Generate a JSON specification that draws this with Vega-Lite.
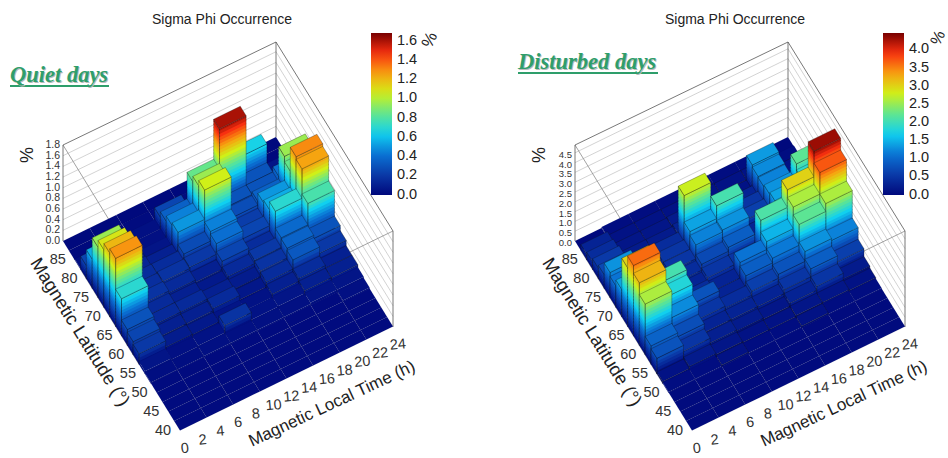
{"$schema":"https://vega.github.io/schema/vega-lite/v6.json","padding":0,"spacing":0,"bounds":"flush","background":"white","config":{"view":{"stroke":null}},
"resolve":{"scale":{"fill":"independent"},"legend":{"fill":"independent"}},
"datasets":{
"latT":[{"l":40},{"l":45},{"l":50},{"l":55},{"l":60},{"l":65},{"l":70},{"l":75},{"l":80},{"l":85}],
"mltT":[{"m":0},{"m":2},{"m":4},{"m":6},{"m":8},{"m":10},{"m":12},{"m":14},{"m":16},{"m":18},{"m":20},{"m":22},{"m":24}],
"quiet":[
{"m":21,"l":87.5,"v":0},{"m":18,"l":87.5,"v":0},{"m":15,"l":87.5,"v":0},{"m":12,"l":87.5,"v":0},{"m":9,"l":87.5,"v":0},{"m":6,"l":87.5,"v":0},{"m":3,"l":87.5,"v":0},{"m":0,"l":87.5,"v":0},
{"m":21,"l":85,"v":0},{"m":18,"l":85,"v":0.02},{"m":15,"l":85,"v":0.02},{"m":12,"l":85,"v":0.01},{"m":9,"l":85,"v":0.01},{"m":6,"l":85,"v":0.01},{"m":3,"l":85,"v":0},{"m":0,"l":85,"v":0},
{"m":21,"l":82.5,"v":0.05},{"m":18,"l":82.5,"v":0.65},{"m":15,"l":82.5,"v":0.1},{"m":12,"l":82.5,"v":0.1},{"m":9,"l":82.5,"v":0.25},{"m":6,"l":82.5,"v":0.03},{"m":3,"l":82.5,"v":0.02},{"m":0,"l":82.5,"v":0.02},
{"m":21,"l":80,"v":0.1},{"m":18,"l":80,"v":0.3},{"m":15,"l":80,"v":1.6},{"m":12,"l":80,"v":0.85},{"m":9,"l":80,"v":0.35},{"m":6,"l":80,"v":0.03},{"m":3,"l":80,"v":0.05},{"m":0,"l":80,"v":0.25},
{"m":21,"l":77.5,"v":0.4},{"m":18,"l":77.5,"v":0.3},{"m":15,"l":77.5,"v":0.3},{"m":12,"l":77.5,"v":0.95},{"m":9,"l":77.5,"v":0.45},{"m":6,"l":77.5,"v":0.05},{"m":3,"l":77.5,"v":0.1},{"m":0,"l":77.5,"v":0.55},
{"m":21,"l":75,"v":0.95},{"m":18,"l":75,"v":0.35},{"m":15,"l":75,"v":0.28},{"m":12,"l":75,"v":1.05},{"m":9,"l":75,"v":0.5},{"m":6,"l":75,"v":0.1},{"m":3,"l":75,"v":0.12},{"m":0,"l":75,"v":0.95},
{"m":21,"l":72.5,"v":0.85},{"m":18,"l":72.5,"v":0.5},{"m":15,"l":72.5,"v":0.22},{"m":12,"l":72.5,"v":0.45},{"m":9,"l":72.5,"v":0.27},{"m":6,"l":72.5,"v":0.15},{"m":3,"l":72.5,"v":0.15},{"m":0,"l":72.5,"v":1.08},
{"m":21,"l":70,"v":1.3},{"m":18,"l":70,"v":0.55},{"m":15,"l":70,"v":0.25},{"m":12,"l":70,"v":0.4},{"m":9,"l":70,"v":0.2},{"m":6,"l":70,"v":0.18},{"m":3,"l":70,"v":0.16},{"m":0,"l":70,"v":1.2},
{"m":21,"l":67.5,"v":1.25},{"m":18,"l":67.5,"v":0.7},{"m":15,"l":67.5,"v":0.15},{"m":12,"l":67.5,"v":0.25},{"m":9,"l":67.5,"v":0.1},{"m":6,"l":67.5,"v":0.14},{"m":3,"l":67.5,"v":0.18},{"m":0,"l":67.5,"v":1.28},
{"m":21,"l":65,"v":0.78},{"m":18,"l":65,"v":0.38},{"m":15,"l":65,"v":0.2},{"m":12,"l":65,"v":0.14},{"m":9,"l":65,"v":0.07},{"m":6,"l":65,"v":0.1},{"m":3,"l":65,"v":0.14},{"m":0,"l":65,"v":0.7},
{"m":21,"l":62.5,"v":0.3},{"m":18,"l":62.5,"v":0.36},{"m":15,"l":62.5,"v":0.18},{"m":12,"l":62.5,"v":0.08},{"m":9,"l":62.5,"v":0.1},{"m":6,"l":62.5,"v":0.14},{"m":3,"l":62.5,"v":0.14},{"m":0,"l":62.5,"v":0.3},
{"m":21,"l":60,"v":0.2},{"m":18,"l":60,"v":0.32},{"m":15,"l":60,"v":0.15},{"m":12,"l":60,"v":0.06},{"m":9,"l":60,"v":0.14},{"m":6,"l":60,"v":0.1},{"m":3,"l":60,"v":0.1},{"m":0,"l":60,"v":0.25},
{"m":21,"l":57.5,"v":0.1},{"m":18,"l":57.5,"v":0.15},{"m":15,"l":57.5,"v":0.1},{"m":12,"l":57.5,"v":0.04},{"m":9,"l":57.5,"v":0.05},{"m":6,"l":57.5,"v":0.07},{"m":3,"l":57.5,"v":0.08},{"m":0,"l":57.5,"v":0.2},
{"m":21,"l":55,"v":0.1},{"m":18,"l":55,"v":0.1},{"m":15,"l":55,"v":0.05},{"m":12,"l":55,"v":0.04},{"m":9,"l":55,"v":0.18},{"m":6,"l":55,"v":0.04},{"m":3,"l":55,"v":0.03},{"m":0,"l":55,"v":0.05},
{"m":21,"l":52.5,"v":0.05},{"m":18,"l":52.5,"v":0.05},{"m":15,"l":52.5,"v":0.03},{"m":12,"l":52.5,"v":0.03},{"m":9,"l":52.5,"v":0.03},{"m":6,"l":52.5,"v":0.03},{"m":3,"l":52.5,"v":0.02},{"m":0,"l":52.5,"v":0.02},
{"m":21,"l":50,"v":0.03},{"m":18,"l":50,"v":0.01},{"m":15,"l":50,"v":0.01},{"m":12,"l":50,"v":0.01},{"m":9,"l":50,"v":0.01},{"m":6,"l":50,"v":0.01},{"m":3,"l":50,"v":0.01},{"m":0,"l":50,"v":0.01},
{"m":21,"l":47.5,"v":0.01},{"m":18,"l":47.5,"v":0.01},{"m":15,"l":47.5,"v":0.01},{"m":12,"l":47.5,"v":0.01},{"m":9,"l":47.5,"v":0.01},{"m":6,"l":47.5,"v":0.01},{"m":3,"l":47.5,"v":0.01},{"m":0,"l":47.5,"v":0.01},
{"m":21,"l":45,"v":0.01},{"m":18,"l":45,"v":0.01},{"m":15,"l":45,"v":0.01},{"m":12,"l":45,"v":0.01},{"m":9,"l":45,"v":0.01},{"m":6,"l":45,"v":0.01},{"m":3,"l":45,"v":0.01},{"m":0,"l":45,"v":0.01},
{"m":21,"l":42.5,"v":0.01},{"m":18,"l":42.5,"v":0.01},{"m":15,"l":42.5,"v":0.01},{"m":12,"l":42.5,"v":0.01},{"m":9,"l":42.5,"v":0.01},{"m":6,"l":42.5,"v":0.01},{"m":3,"l":42.5,"v":0.01},{"m":0,"l":42.5,"v":0.01},
{"m":21,"l":40,"v":0.01},{"m":18,"l":40,"v":0.01},{"m":15,"l":40,"v":0.01},{"m":12,"l":40,"v":0.01},{"m":9,"l":40,"v":0.01},{"m":6,"l":40,"v":0.01},{"m":3,"l":40,"v":0.01},{"m":0,"l":40,"v":0.01}],
"disturbed":[
{"m":21,"l":87.5,"v":0},{"m":18,"l":87.5,"v":0.05},{"m":15,"l":87.5,"v":0.05},{"m":12,"l":87.5,"v":0.05},{"m":9,"l":87.5,"v":0.05},{"m":6,"l":87.5,"v":0.05},{"m":3,"l":87.5,"v":0.05},{"m":0,"l":87.5,"v":0},
{"m":21,"l":85,"v":0.05},{"m":18,"l":85,"v":0.1},{"m":15,"l":85,"v":0.1},{"m":12,"l":85,"v":0.1},{"m":9,"l":85,"v":0.1},{"m":6,"l":85,"v":0.1},{"m":3,"l":85,"v":0.1},{"m":0,"l":85,"v":0.3},
{"m":21,"l":82.5,"v":0.1},{"m":18,"l":82.5,"v":1.35},{"m":15,"l":82.5,"v":0.1},{"m":12,"l":82.5,"v":0.1},{"m":9,"l":82.5,"v":0.2},{"m":6,"l":82.5,"v":0.15},{"m":3,"l":82.5,"v":0.15},{"m":0,"l":82.5,"v":0.4},
{"m":21,"l":80,"v":0.15},{"m":18,"l":80,"v":1.25},{"m":15,"l":80,"v":0.3},{"m":12,"l":80,"v":0.15},{"m":9,"l":80,"v":0.3},{"m":6,"l":80,"v":0.2},{"m":3,"l":80,"v":0.2},{"m":0,"l":80,"v":0.55},
{"m":21,"l":77.5,"v":0.3},{"m":18,"l":77.5,"v":1.2},{"m":15,"l":77.5,"v":0.5},{"m":12,"l":77.5,"v":0.3},{"m":9,"l":77.5,"v":2.75},{"m":6,"l":77.5,"v":0.4},{"m":3,"l":77.5,"v":0.25},{"m":0,"l":77.5,"v":0.7},
{"m":21,"l":75,"v":2.2},{"m":18,"l":75,"v":1.3},{"m":15,"l":75,"v":0.6},{"m":12,"l":75,"v":2.05},{"m":9,"l":75,"v":1.4},{"m":6,"l":75,"v":0.5},{"m":3,"l":75,"v":0.3},{"m":0,"l":75,"v":1.3},
{"m":21,"l":72.5,"v":1.9},{"m":18,"l":72.5,"v":1.4},{"m":15,"l":72.5,"v":0.3},{"m":12,"l":72.5,"v":1.3},{"m":9,"l":72.5,"v":1.2},{"m":6,"l":72.5,"v":0.5},{"m":3,"l":72.5,"v":0.35},{"m":0,"l":72.5,"v":1.1},
{"m":21,"l":70,"v":1.6},{"m":18,"l":70,"v":1.5},{"m":15,"l":70,"v":0.2},{"m":12,"l":70,"v":0.9},{"m":9,"l":70,"v":0.7},{"m":6,"l":70,"v":0.4},{"m":3,"l":70,"v":0.4},{"m":0,"l":70,"v":1.4},
{"m":21,"l":67.5,"v":4.3},{"m":18,"l":67.5,"v":3.0},{"m":15,"l":67.5,"v":2.1},{"m":12,"l":67.5,"v":0.5},{"m":9,"l":67.5,"v":0.5},{"m":6,"l":67.5,"v":0.3},{"m":3,"l":67.5,"v":0.5},{"m":0,"l":67.5,"v":3.0},
{"m":21,"l":65,"v":3.7},{"m":18,"l":65,"v":2.6},{"m":15,"l":65,"v":1.5},{"m":12,"l":65,"v":1.1},{"m":9,"l":65,"v":0.3},{"m":6,"l":65,"v":0.4},{"m":3,"l":65,"v":2.05},{"m":0,"l":65,"v":3.6},
{"m":21,"l":62.5,"v":2.6},{"m":18,"l":62.5,"v":2.2},{"m":15,"l":62.5,"v":1.14},{"m":12,"l":62.5,"v":0.9},{"m":9,"l":62.5,"v":0.3},{"m":6,"l":62.5,"v":0.8},{"m":3,"l":62.5,"v":1.8},{"m":0,"l":62.5,"v":3.2},
{"m":21,"l":60,"v":1.2},{"m":18,"l":60,"v":1.3},{"m":15,"l":60,"v":0.8},{"m":12,"l":60,"v":0.6},{"m":9,"l":60,"v":0.4},{"m":6,"l":60,"v":0.5},{"m":3,"l":60,"v":1.25},{"m":0,"l":60,"v":2.6},
{"m":21,"l":57.5,"v":0.6},{"m":18,"l":57.5,"v":0.9},{"m":15,"l":57.5,"v":0.5},{"m":12,"l":57.5,"v":0.3},{"m":9,"l":57.5,"v":0.3},{"m":6,"l":57.5,"v":0.3},{"m":3,"l":57.5,"v":0.75},{"m":0,"l":57.5,"v":0.95},
{"m":21,"l":55,"v":0.2},{"m":18,"l":55,"v":0.5},{"m":15,"l":55,"v":0.3},{"m":12,"l":55,"v":0.15},{"m":9,"l":55,"v":0.2},{"m":6,"l":55,"v":0.25},{"m":3,"l":55,"v":0.5},{"m":0,"l":55,"v":0.8},
{"m":21,"l":52.5,"v":0.1},{"m":18,"l":52.5,"v":0.15},{"m":15,"l":52.5,"v":0.15},{"m":12,"l":52.5,"v":0.1},{"m":9,"l":52.5,"v":0.1},{"m":6,"l":52.5,"v":0.15},{"m":3,"l":52.5,"v":0.2},{"m":0,"l":52.5,"v":0.1},
{"m":21,"l":50,"v":0.05},{"m":18,"l":50,"v":0.05},{"m":15,"l":50,"v":0.1},{"m":12,"l":50,"v":0.05},{"m":9,"l":50,"v":0.05},{"m":6,"l":50,"v":0.1},{"m":3,"l":50,"v":0.05},{"m":0,"l":50,"v":0.05},
{"m":21,"l":47.5,"v":0.02},{"m":18,"l":47.5,"v":0.02},{"m":15,"l":47.5,"v":0.02},{"m":12,"l":47.5,"v":0.02},{"m":9,"l":47.5,"v":0.02},{"m":6,"l":47.5,"v":0.02},{"m":3,"l":47.5,"v":0.02},{"m":0,"l":47.5,"v":0.02},
{"m":21,"l":45,"v":0.02},{"m":18,"l":45,"v":0.02},{"m":15,"l":45,"v":0.02},{"m":12,"l":45,"v":0.02},{"m":9,"l":45,"v":0.02},{"m":6,"l":45,"v":0.02},{"m":3,"l":45,"v":0.02},{"m":0,"l":45,"v":0.02},
{"m":21,"l":42.5,"v":0.02},{"m":18,"l":42.5,"v":0.02},{"m":15,"l":42.5,"v":0.02},{"m":12,"l":42.5,"v":0.02},{"m":9,"l":42.5,"v":0.02},{"m":6,"l":42.5,"v":0.02},{"m":3,"l":42.5,"v":0.02},{"m":0,"l":42.5,"v":0.02},
{"m":21,"l":40,"v":0.02},{"m":18,"l":40,"v":0.02},{"m":15,"l":40,"v":0.02},{"m":12,"l":40,"v":0.02},{"m":9,"l":40,"v":0.02},{"m":6,"l":40,"v":0.02},{"m":3,"l":40,"v":0.02},{"m":0,"l":40,"v":0.02}]
},
"hconcat":[
{"width":512,"height":458,"projection":{"type":"identity","scale":1,"translate":[0,0]},
"layer":[
{"data":{"values":[{"z":0.2},{"z":0.4},{"z":0.6},{"z":0.8},{"z":1.0},{"z":1.2},{"z":1.4},{"z":1.6}]},
"transform":[{"calculate":"{type:'LineString',coordinates:[[63,241-53.3*datum.z],[276,137-53.3*datum.z],[393,327-53.3*datum.z]]}","as":"geo"}],
"mark":{"type":"geoshape","filled":false,"stroke":"#c0c0c0","strokeWidth":0.7,"fill":null},"encoding":{"shape":{"field":"geo","type":"geojson"}}},
{"data":{"values":[{"z":1.8}]},
"transform":[{"calculate":"{type:'MultiLineString',coordinates:[[[63,145],[180,335]],[[393,231],[180,335]]]}","as":"geo"}],
"mark":{"type":"geoshape","filled":false,"stroke":"#8c8c8c","strokeWidth":0.8,"fill":null},"encoding":{"shape":{"field":"geo","type":"geojson"}}},
{"data":{"values":[{"z":1.8}]},
"transform":[{"calculate":"{type:'MultiLineString',coordinates:[[[63,241],[63,145],[276,42],[393,231],[393,327]],[[276,42],[276,137]]]}","as":"geo"}],
"mark":{"type":"geoshape","filled":false,"stroke":"#555555","strokeWidth":0.8,"fill":null},"encoding":{"shape":{"field":"geo","type":"geojson"}}},
{"data":{"name":"quiet"},
"transform":[
{"calculate":"[0,1,3,4,2]","as":"f"},{"flatten":["f"]},
{"filter":"datum.f==2||datum.v>0.015"},
{"calculate":"datum.f<2?sequence(0,ceil(datum.v/0.06)):[0]","as":"k"},{"flatten":["k"]},
{"calculate":"datum.f==2?datum.v:datum.f>2?0:datum.k*0.06","as":"z0"},
{"calculate":"datum.f>=2?datum.v:min(datum.v,(datum.k+1.4)*0.06)","as":"z1"},
{"calculate":"datum.f<2?min(datum.v,(datum.k+0.5)*0.06):datum.v","as":"c"},
{"calculate":"180+8.875*datum.m-2.34*(datum.l-40)","as":"x0"},
{"calculate":"431-4.333*datum.m-3.8*(datum.l-40)","as":"y0"},
{"calculate":"datum.f==0||datum.f==3?-5.85:26.6","as":"dx"},
{"calculate":"datum.f==0||datum.f==3?-9.5:-13","as":"dy"},
{"calculate":"datum.y0-53.3*datum.z0","as":"ya"},
{"calculate":"datum.y0-53.3*datum.z1","as":"yb"},
{"calculate":"datum.f==2?{type:'Polygon',coordinates:[[[datum.x0,datum.ya],[datum.x0+26.6,datum.ya-13],[datum.x0+20.75,datum.ya-22.5],[datum.x0-5.85,datum.ya-9.5],[datum.x0,datum.ya]]]}:{type:'Polygon',coordinates:[[[datum.x0,datum.ya],[datum.x0+datum.dx,datum.ya+datum.dy],[datum.x0+datum.dx,datum.yb+datum.dy],[datum.x0,datum.yb],[datum.x0,datum.ya]]]}","as":"geo"}
],
"mark":{"type":"geoshape","stroke":"#101010","strokeOpacity":0.5},
"encoding":{"shape":{"field":"geo","type":"geojson"},
"fill":{"field":"c","type":"quantitative","scale":{"domain":[-0.005,0.21,0.42,0.63,0.84,1.05,1.26,1.47,1.68],"range":["#00087c","#0a3aa8","#0a74d5","#10d0f0","#60e690","#d0f018","#f8a010","#f83010","#780000"],"interpolate":"rgb"},
"legend":{"orient":"none","legendX":371,"legendY":33,"direction":"vertical","gradientLength":162,"gradientThickness":21,"title":null,"values":[0,0.2,0.4,0.6,0.8,1,1.2,1.4,1.6],"format":".1f","labelFont":"Liberation Sans","labelFontSize":14.5,"labelColor":"#222222","labelOverlap":false,"labelOffset":5}},
"fillOpacity":{"condition":{"test":"datum.f==3||datum.f==4","value":0},"value":1},
"strokeWidth":{"condition":[{"test":"datum.f>=2&&datum.v<0.06","value":0.1},{"test":"datum.f>=2","value":0.6}],"value":0}}},
{"data":{"values":[{"z":0},{"z":0.2},{"z":0.4},{"z":0.6},{"z":0.8},{"z":1.0},{"z":1.2},{"z":1.4},{"z":1.6},{"z":1.8}]},
"transform":[{"calculate":"60","as":"px"},{"calculate":"241-53.3*datum.z","as":"py"}],
"mark":{"type":"text","align":"right","baseline":"middle","font":"Liberation Sans","fontSize":10.5,"color":"#333333"},
"encoding":{"longitude":{"field":"px","type":"quantitative"},"latitude":{"field":"py","type":"quantitative"},"text":{"field":"z","type":"quantitative","format":".1f"}}},
{"data":{"name":"latT"},
"transform":[{"calculate":"163-2.34*(datum.l-40)","as":"px"},{"calculate":"431-3.8*(datum.l-40)","as":"py"}],
"mark":{"type":"text","align":"center","baseline":"middle","font":"Liberation Sans","fontSize":14.5,"color":"#333333"},
"encoding":{"longitude":{"field":"px","type":"quantitative"},"latitude":{"field":"py","type":"quantitative"},"text":{"field":"l","type":"quantitative"}}},
{"data":{"name":"mltT"},
"transform":[{"calculate":"185+8.875*datum.m","as":"px"},{"calculate":"449-4.333*datum.m","as":"py"}],
"mark":{"type":"text","align":"center","baseline":"middle","font":"Liberation Sans","fontSize":14.5,"color":"#333333","angle":-5},
"encoding":{"longitude":{"field":"px","type":"quantitative"},"latitude":{"field":"py","type":"quantitative"},"text":{"field":"m","type":"quantitative"}}},
{"mark":{"type":"text","text":"Magnetic Latitude (°)","x":80,"y":332,"angle":58,"font":"Liberation Sans","fontSize":18.5,"color":"#222222"},"data":{"values":[{}]},"encoding":{}},
{"mark":{"type":"text","text":"Magnetic Local Time (h)","x":332,"y":404,"angle":-25,"font":"Liberation Sans","fontSize":17,"color":"#222222"},"data":{"values":[{}]},"encoding":{}},
{"mark":{"type":"text","text":"Sigma Phi Occurrence","x":222,"y":20,"font":"Liberation Sans","fontSize":14,"color":"#222222"},"data":{"values":[{}]},"encoding":{}},
{"mark":{"type":"text","text":"%","x":28,"y":155,"angle":-90,"font":"Liberation Sans","fontSize":18,"color":"#222222"},"data":{"values":[{}]},"encoding":{}},
{"mark":{"type":"text","text":"%","x":430,"y":40,"angle":-65,"font":"Liberation Sans","fontSize":17,"color":"#222222"},"data":{"values":[{}]},"encoding":{}},
{"data":{"values":[{"z":0}]},"transform":[{"calculate":"{type:'LineString',coordinates:[[10,86],[109,86]]}","as":"geo"}],"mark":{"type":"geoshape","filled":false,"fill":null,"stroke":"#2e9e6b","strokeWidth":2},"encoding":{"shape":{"field":"geo","type":"geojson"}}},
{"mark":{"type":"text","text":"Quiet days","x":11,"y":83,"align":"left","baseline":"alphabetic","font":"Liberation Serif","fontStyle":"italic","fontWeight":"bold","fontSize":22.5,"color":"#b9b9b9"},"data":{"values":[{}]},"encoding":{}},
{"mark":{"type":"text","text":"Quiet days","x":10,"y":82,"align":"left","baseline":"alphabetic","font":"Liberation Serif","fontStyle":"italic","fontWeight":"bold","fontSize":22.5,"color":"#2e9e6b"},"data":{"values":[{}]},"encoding":{}}
]},
{"width":436,"height":458,"projection":{"type":"identity","scale":1,"translate":[0,0]},
"layer":[
{"data":{"values":[{"z":0.5},{"z":1},{"z":1.5},{"z":2},{"z":2.5},{"z":3},{"z":3.5},{"z":4},{"z":4.5}]},
"transform":[{"calculate":"{type:'LineString',coordinates:[[63,241-19.6*datum.z],[276,137-19.6*datum.z],[393,327-19.6*datum.z]]}","as":"geo"}],
"mark":{"type":"geoshape","filled":false,"stroke":"#c0c0c0","strokeWidth":0.7,"fill":null},"encoding":{"shape":{"field":"geo","type":"geojson"}}},
{"data":{"values":[{"z":4.9}]},
"transform":[{"calculate":"{type:'MultiLineString',coordinates:[[[63,145],[180,335]],[[393,231],[180,335]]]}","as":"geo"}],
"mark":{"type":"geoshape","filled":false,"stroke":"#8c8c8c","strokeWidth":0.8,"fill":null},"encoding":{"shape":{"field":"geo","type":"geojson"}}},
{"data":{"values":[{"z":4.9}]},
"transform":[{"calculate":"{type:'MultiLineString',coordinates:[[[63,241],[63,145],[276,42],[393,231],[393,327]],[[276,42],[276,137]]]}","as":"geo"}],
"mark":{"type":"geoshape","filled":false,"stroke":"#555555","strokeWidth":0.8,"fill":null},"encoding":{"shape":{"field":"geo","type":"geojson"}}},
{"data":{"name":"disturbed"},
"transform":[
{"calculate":"[0,1,3,4,2]","as":"f"},{"flatten":["f"]},
{"filter":"datum.f==2||datum.v>0.03"},
{"calculate":"datum.f<2?sequence(0,ceil(datum.v/0.16)):[0]","as":"k"},{"flatten":["k"]},
{"calculate":"datum.f==2?datum.v:datum.f>2?0:datum.k*0.16","as":"z0"},
{"calculate":"datum.f>=2?datum.v:min(datum.v,(datum.k+1.4)*0.16)","as":"z1"},
{"calculate":"datum.f<2?min(datum.v,(datum.k+0.5)*0.16):datum.v","as":"c"},
{"calculate":"180+8.875*datum.m-2.34*(datum.l-40)","as":"x0"},
{"calculate":"431-4.333*datum.m-3.8*(datum.l-40)","as":"y0"},
{"calculate":"datum.f==0||datum.f==3?-5.85:26.6","as":"dx"},
{"calculate":"datum.f==0||datum.f==3?-9.5:-13","as":"dy"},
{"calculate":"datum.y0-19.6*datum.z0","as":"ya"},
{"calculate":"datum.y0-19.6*datum.z1","as":"yb"},
{"calculate":"datum.f==2?{type:'Polygon',coordinates:[[[datum.x0,datum.ya],[datum.x0+26.6,datum.ya-13],[datum.x0+20.75,datum.ya-22.5],[datum.x0-5.85,datum.ya-9.5],[datum.x0,datum.ya]]]}:{type:'Polygon',coordinates:[[[datum.x0,datum.ya],[datum.x0+datum.dx,datum.ya+datum.dy],[datum.x0+datum.dx,datum.yb+datum.dy],[datum.x0,datum.yb],[datum.x0,datum.ya]]]}","as":"geo"}
],
"mark":{"type":"geoshape","stroke":"#101010","strokeOpacity":0.5},
"encoding":{"shape":{"field":"geo","type":"geojson"},
"fill":{"field":"c","type":"quantitative","scale":{"domain":[-0.01,0.55625,1.1125,1.66875,2.225,2.78125,3.3375,3.89375,4.45],"range":["#00087c","#0a3aa8","#0a74d5","#10d0f0","#60e690","#d0f018","#f8a010","#f83010","#780000"],"interpolate":"rgb"},
"legend":{"orient":"none","legendX":371,"legendY":33,"direction":"vertical","gradientLength":162,"gradientThickness":21,"title":null,"values":[0,0.5,1,1.5,2,2.5,3,3.5,4],"format":".1f","labelFont":"Liberation Sans","labelFontSize":14.5,"labelColor":"#222222","labelOverlap":false,"labelOffset":5}},
"fillOpacity":{"condition":{"test":"datum.f==3||datum.f==4","value":0},"value":1},
"strokeWidth":{"condition":[{"test":"datum.f>=2&&datum.v<0.06","value":0.1},{"test":"datum.f>=2","value":0.6}],"value":0}}},
{"data":{"values":[{"z":0},{"z":0.5},{"z":1},{"z":1.5},{"z":2},{"z":2.5},{"z":3},{"z":3.5},{"z":4},{"z":4.5}]},
"transform":[{"calculate":"60","as":"px"},{"calculate":"243-19.6*datum.z","as":"py"}],
"mark":{"type":"text","align":"right","baseline":"middle","font":"Liberation Sans","fontSize":9.5,"color":"#333333"},
"encoding":{"longitude":{"field":"px","type":"quantitative"},"latitude":{"field":"py","type":"quantitative"},"text":{"field":"z","type":"quantitative","format":".1f"}}},
{"data":{"name":"latT"},
"transform":[{"calculate":"163-2.34*(datum.l-40)","as":"px"},{"calculate":"431-3.8*(datum.l-40)","as":"py"}],
"mark":{"type":"text","align":"center","baseline":"middle","font":"Liberation Sans","fontSize":14.5,"color":"#333333"},
"encoding":{"longitude":{"field":"px","type":"quantitative"},"latitude":{"field":"py","type":"quantitative"},"text":{"field":"l","type":"quantitative"}}},
{"data":{"name":"mltT"},
"transform":[{"calculate":"185+8.875*datum.m","as":"px"},{"calculate":"449-4.333*datum.m","as":"py"}],
"mark":{"type":"text","align":"center","baseline":"middle","font":"Liberation Sans","fontSize":14.5,"color":"#333333","angle":-5},
"encoding":{"longitude":{"field":"px","type":"quantitative"},"latitude":{"field":"py","type":"quantitative"},"text":{"field":"m","type":"quantitative"}}},
{"mark":{"type":"text","text":"Magnetic Latitude (°)","x":80,"y":332,"angle":58,"font":"Liberation Sans","fontSize":18.5,"color":"#222222"},"data":{"values":[{}]},"encoding":{}},
{"mark":{"type":"text","text":"Magnetic Local Time (h)","x":332,"y":404,"angle":-25,"font":"Liberation Sans","fontSize":17,"color":"#222222"},"data":{"values":[{}]},"encoding":{}},
{"mark":{"type":"text","text":"Sigma Phi Occurrence","x":223,"y":20,"font":"Liberation Sans","fontSize":14,"color":"#222222"},"data":{"values":[{}]},"encoding":{}},
{"mark":{"type":"text","text":"%","x":28,"y":155,"angle":-90,"font":"Liberation Sans","fontSize":18,"color":"#222222"},"data":{"values":[{}]},"encoding":{}},
{"mark":{"type":"text","text":"%","x":426,"y":38,"angle":-65,"font":"Liberation Sans","fontSize":16,"color":"#222222"},"data":{"values":[{}]},"encoding":{}},
{"data":{"values":[{"z":0}]},"transform":[{"calculate":"{type:'LineString',coordinates:[[6,73],[146,73]]}","as":"geo"}],"mark":{"type":"geoshape","filled":false,"fill":null,"stroke":"#2e9e6b","strokeWidth":2},"encoding":{"shape":{"field":"geo","type":"geojson"}}},
{"mark":{"type":"text","text":"Disturbed days","x":7,"y":70,"align":"left","baseline":"alphabetic","font":"Liberation Serif","fontStyle":"italic","fontWeight":"bold","fontSize":22.5,"color":"#b9b9b9"},"data":{"values":[{}]},"encoding":{}},
{"mark":{"type":"text","text":"Disturbed days","x":6,"y":69,"align":"left","baseline":"alphabetic","font":"Liberation Serif","fontStyle":"italic","fontWeight":"bold","fontSize":22.5,"color":"#2e9e6b"},"data":{"values":[{}]},"encoding":{}}
]}
]}
